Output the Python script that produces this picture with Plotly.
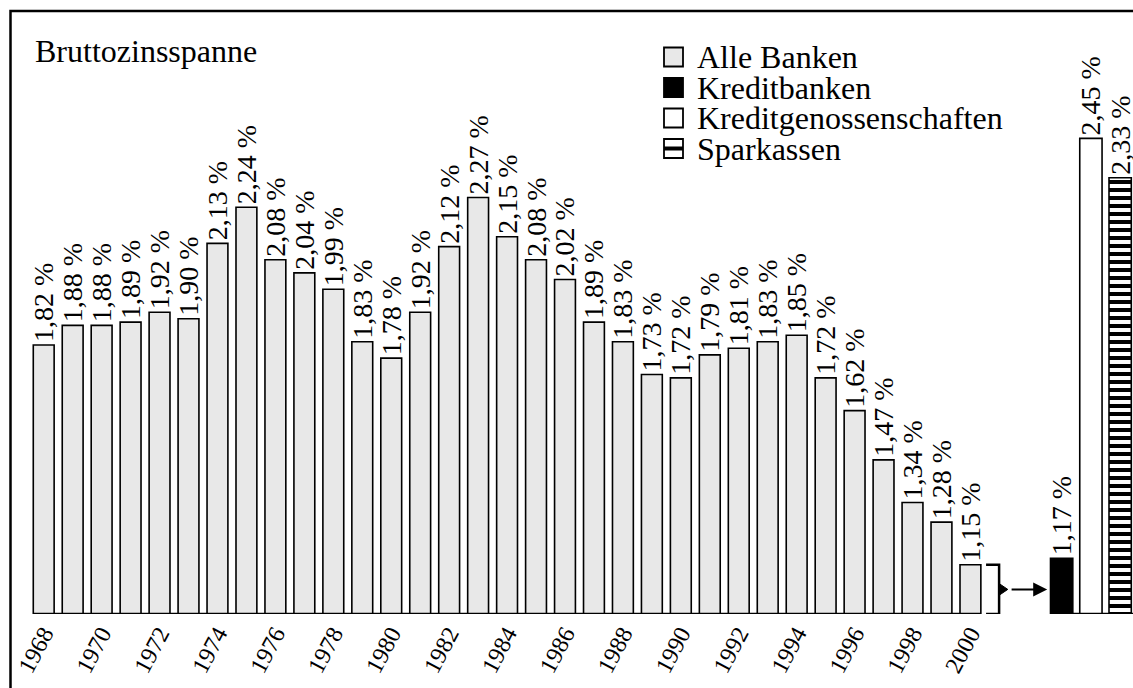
import plotly.graph_objects as go

# ---------------- data ----------------
years = list(range(1968, 2001))
alle_banken = [1.82, 1.88, 1.88, 1.89, 1.92, 1.90, 2.13, 2.24, 2.08, 2.04, 1.99,
               1.83, 1.78, 1.92, 2.12, 2.27, 2.15, 2.08, 2.02, 1.89, 1.83, 1.73,
               1.72, 1.79, 1.81, 1.83, 1.85, 1.72, 1.62, 1.47, 1.34, 1.28, 1.15]
group_names = ["Kreditbanken", "Kreditgenossenschaften", "Sparkassen"]
group_values = [1.17, 2.45, 2.33]
tick_years = list(range(1968, 2001, 2))
tick_labels = [str(y) for y in tick_years]
title_text = "Bruttozinsspanne"
legend_names = ["Alle Banken"] + group_names

# ---------------- layout helpers ----------------
W, H = 1133, 688
ML, MR, MT = 10, 0, 10
MB = H - 614
PW, PH = W - ML - MR, H - MT - MB
X0, PX_PER_YEAR = 1966.836, 28.96
Y0, PX_PER_UNIT = 1.0, 328.0
x_range = [X0, X0 + PW / PX_PER_YEAR]
y_range = [Y0, Y0 + PH / PX_PER_UNIT]


def px_x(p):
    """page pixel -> paper x"""
    return (p - ML) / PW


def px_y(p):
    """page pixel -> paper y"""
    return (H - MB - p) / PH


FONT = "Liberation Serif"


def fmt(v):
    return f"{v:.2f}".replace(".", ",") + " %"


fig = go.Figure()

fig.add_trace(go.Bar(
    x=years, y=alle_banken, width=0.72,
    marker=dict(color="#e8e8e8", line=dict(color="black", width=1.6)),
    text=[fmt(v) for v in alle_banken], textposition="outside",
    textangle=-90, constraintext="none", cliponaxis=False,
    textfont=dict(family=FONT, size=28, color="black"),
    name=legend_names[0], showlegend=False,
))

group_x = [years[-1] + 3.15 + i * 1.01 for i in range(len(group_names))]
styles = [
    dict(color="black", line=dict(color="black", width=1.6)),
    dict(color="white", line=dict(color="black", width=1.6)),
    dict(color="white", line=dict(color="black", width=1.6),
         pattern=dict(shape="-", size=8, solidity=0.5, fgcolor="black",
                      bgcolor="white", fgopacity=1, fillmode="replace")),
]
for name, xv, val, st in zip(group_names, group_x, group_values, styles):
    fig.add_trace(go.Bar(
        x=[xv], y=[val], width=0.77, marker=st,
        text=[fmt(val)], textposition="outside", textangle=-90,
        constraintext="none", cliponaxis=False,
        textfont=dict(family=FONT, size=28, color="black"),
        name=name, showlegend=False,
    ))

shapes = []
# outer frame
shapes.append(dict(type="rect", xref="paper", yref="paper",
                   x0=px_x(10.5), x1=1.2, y0=-0.5, y1=px_y(11),
                   line=dict(color="black", width=2.5), fillcolor="rgba(0,0,0,0)",
                   layer="above"))
# baselines
shapes.append(dict(type="line", xref="x", yref="y",
                   x0=years[0] - 0.36, x1=years[-1] + 0.36, y0=Y0, y1=Y0,
                   line=dict(color="black", width=2.5)))
shapes.append(dict(type="line", xref="x", yref="y",
                   x0=group_x[0] - 0.385, x1=x_range[1], y0=Y0, y1=Y0,
                   line=dict(color="black", width=2.5)))
# bracket around the 2000 bar
bx0, bx1 = years[-1] + 0.54, years[-1] + 0.99
top = alle_banken[-1]
mid = (top + Y0) / 2
shapes.append(dict(type="path", xref="x", yref="y",
                   path=f"M {bx0},{top} L {bx1},{top} L {bx1},{Y0} L {bx0},{Y0}",
                   line=dict(color="black", width=2.5)))
shapes.append(dict(type="path", xref="x", yref="y",
                   path=f"M {bx1},{mid + 0.018} L {bx1 + 0.3},{mid} L {bx1},{mid - 0.018} Z",
                   line=dict(color="black", width=1), fillcolor="black"))

annotations = []
annotations.append(dict(x=bx1 + 0.38 + 1.28, y=mid, ax=bx1 + 0.38, ay=mid,
                        xref="x", yref="y", axref="x", ayref="y",
                        text="", showarrow=True, arrowhead=2, arrowsize=1.4,
                        arrowwidth=2, arrowcolor="black"))
annotations.append(dict(x=px_x(33), y=px_y(51), xref="paper", yref="paper",
                        text=title_text, showarrow=False, xanchor="left",
                        yanchor="middle",
                        font=dict(family=FONT, size=32, color="black")))

# custom legend
legend_rows = [57, 87.5, 118, 148.5]
sym_styles = ["#e8e8e8", "black", "white", "white"]
for i, (nm, ry, fc) in enumerate(zip(legend_names, legend_rows, sym_styles)):
    shapes.append(dict(type="rect", xref="paper", yref="paper",
                       x0=px_x(664), x1=px_x(683), y0=px_y(ry + 9.5), y1=px_y(ry - 9.5),
                       line=dict(color="black", width=1.8), fillcolor=fc))
    if i == 3:
        shapes.append(dict(type="line", xref="paper", yref="paper",
                           x0=px_x(664), x1=px_x(683), y0=px_y(ry), y1=px_y(ry),
                           line=dict(color="black", width=4)))
    annotations.append(dict(x=px_x(695), y=px_y(ry), xref="paper", yref="paper",
                            text=nm, showarrow=False, xanchor="left", yanchor="middle",
                            font=dict(family=FONT, size=32, color="black")))

fig.update_layout(
    width=W, height=H,
    margin=dict(l=ML, r=MR, t=MT, b=MB, pad=0),
    paper_bgcolor="white", plot_bgcolor="white",
    showlegend=False, bargap=0.28,
    shapes=shapes, annotations=annotations,
    xaxis=dict(range=x_range, tickvals=tick_years, ticktext=tick_labels,
               tickangle=-62, showgrid=False, zeroline=False, showline=False,
               ticks="", tickfont=dict(family=FONT, size=24, color="black"),
               fixedrange=True),
    yaxis=dict(range=y_range, visible=False, showgrid=False, zeroline=False,
               fixedrange=True),
)

fig.write_html(
    "out.html",
    config={"displayModeBar": False},
    post_script="document.body.style.margin='0';document.body.style.overflow='hidden';",
)
